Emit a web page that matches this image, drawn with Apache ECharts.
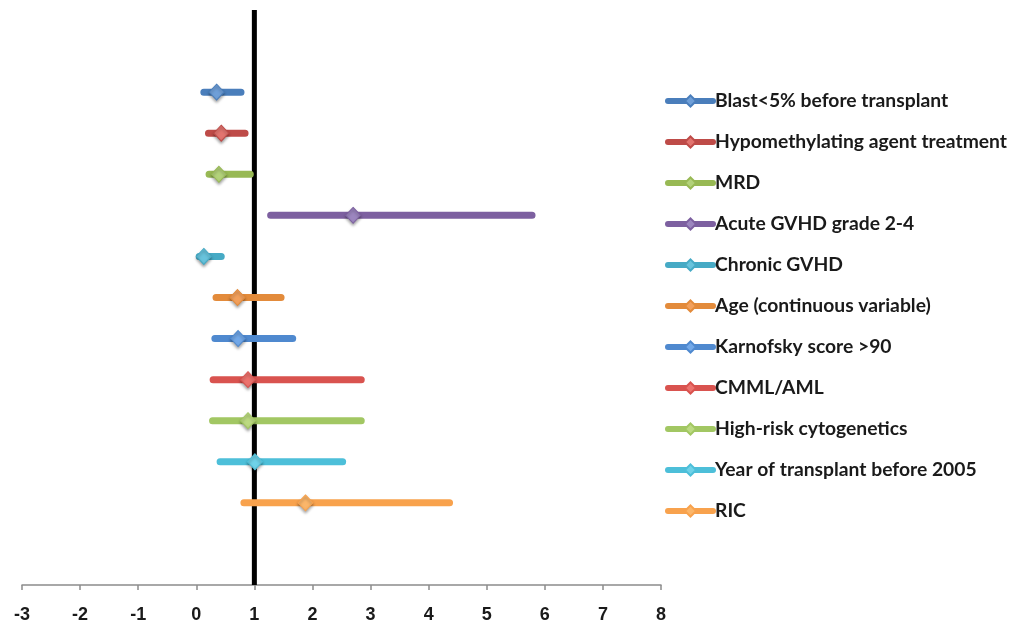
<!DOCTYPE html>
<html>
<head>
<meta charset="utf-8">
<script src="https://cdn.jsdelivr.net/npm/echarts@6/dist/echarts.min.js"></script>
<style>html,body{margin:0;padding:0;background:#fff}#c{width:1015px;height:627px}</style>
</head>
<body>
<div id="c"></div>
<script>
var names = ['Blast<5% before transplant','Hypomethylating agent treatment','MRD','Acute GVHD grade 2-4','Chronic GVHD','Age (continuous variable)','Karnofsky score >90','CMML/AML','High-risk cytogenetics','Year of transplant before 2005','RIC'];
var rowY = [12, 11, 10, 9, 8, 7, 6, 5, 4, 3, 2];
var lowVals = [0.13, 0.21, 0.22, 1.28, 0.05, 0.34, 0.32, 0.29, 0.28, 0.41, 0.82];
var pointVals = [0.35, 0.43, 0.39, 2.70, 0.13, 0.71, 0.72, 0.89, 0.89, 1.01, 1.88];
var highVals = [0.77, 0.84, 0.93, 5.78, 0.43, 1.46, 1.66, 2.84, 2.84, 2.52, 4.36];
var xTicks = [-3, -2, -1, 0, 1, 2, 3, 4, 5, 6, 7, 8];
var refLineX = 1;

var lineColors = ['#4A7EBB','#BE4B48','#98B954','#7D60A0','#46AAC5','#E38B3B','#4F89CF','#D9534F','#A2C763','#4DBFD9','#F8A24D'];
var fillColors = ['#6F9FD8','#E2746F','#B3D27A','#9C86BF','#68C3DC','#F2A05C','#72A8E8','#EC736E','#BCDA82','#6FD2E8','#FBB66A'];

var series = names.map(function (n, i) {
  return {
    name: n,
    type: 'line',
    symbol: 'diamond',
    symbolSize: [15, 16],
    z: 3,
    lineStyle: { color: lineColors[i], width: 7, cap: 'round' },
    itemStyle: { color: fillColors[i], borderColor: lineColors[i], borderWidth: 1,
      shadowBlur: 3, shadowColor: 'rgba(0,0,0,0.35)', shadowOffsetY: 2 },
    data: [
      { value: [lowVals[i], rowY[i]], symbol: 'none' },
      { value: [pointVals[i], rowY[i]] },
      { value: [highVals[i], rowY[i]], symbol: 'none' }
    ],
    silent: true,
    animation: false
  };
});
series.push({
  name: 'ref',
  type: 'line',
  symbol: 'none',
  z: 2,
  lineStyle: { color: '#000', width: 5 },
  data: [[refLineX, 0], [refLineX, 14]],
  silent: true,
  animation: false
});

var chart = echarts.init(document.getElementById('c'), null, { renderer: 'canvas' });
chart.setOption({
  backgroundColor: '#fff',
  animation: false,
  grid: { left: 22, right: 354, top: 10, bottom: 42, containLabel: false },
  xAxis: {
    type: 'value', min: xTicks[0], max: xTicks[xTicks.length - 1], interval: 1,
    splitLine: { show: false },
    axisLine: { show: true, onZero: false, lineStyle: { color: '#8c8c8c', width: 1.5 } },
    axisTick: { show: true, length: 5, lineStyle: { color: '#8c8c8c', width: 1.5 } },
    axisLabel: { margin: 21, color: '#1a1a1a', fontFamily: 'Liberation Sans', fontWeight: 'bold', fontSize: 18 }
  },
  yAxis: {
    type: 'value', min: 0, max: 14, show: false
  },
  legend: {
    data: names,
    orient: 'vertical',
    left: 665,
    top: 91,
    padding: 0,
    itemWidth: 45,
    itemHeight: 14,
    itemGap: 21,
    selectedMode: false,
    lineStyle: { width: 6 },
    textStyle: { fontFamily: 'Lato', fontWeight: 'bold', fontSize: 19.3, color: '#1a1a1a', lineHeight: 20, padding: [0, 0, 0, -3] }
  },
  series: series
});
</script>
</body>
</html>
